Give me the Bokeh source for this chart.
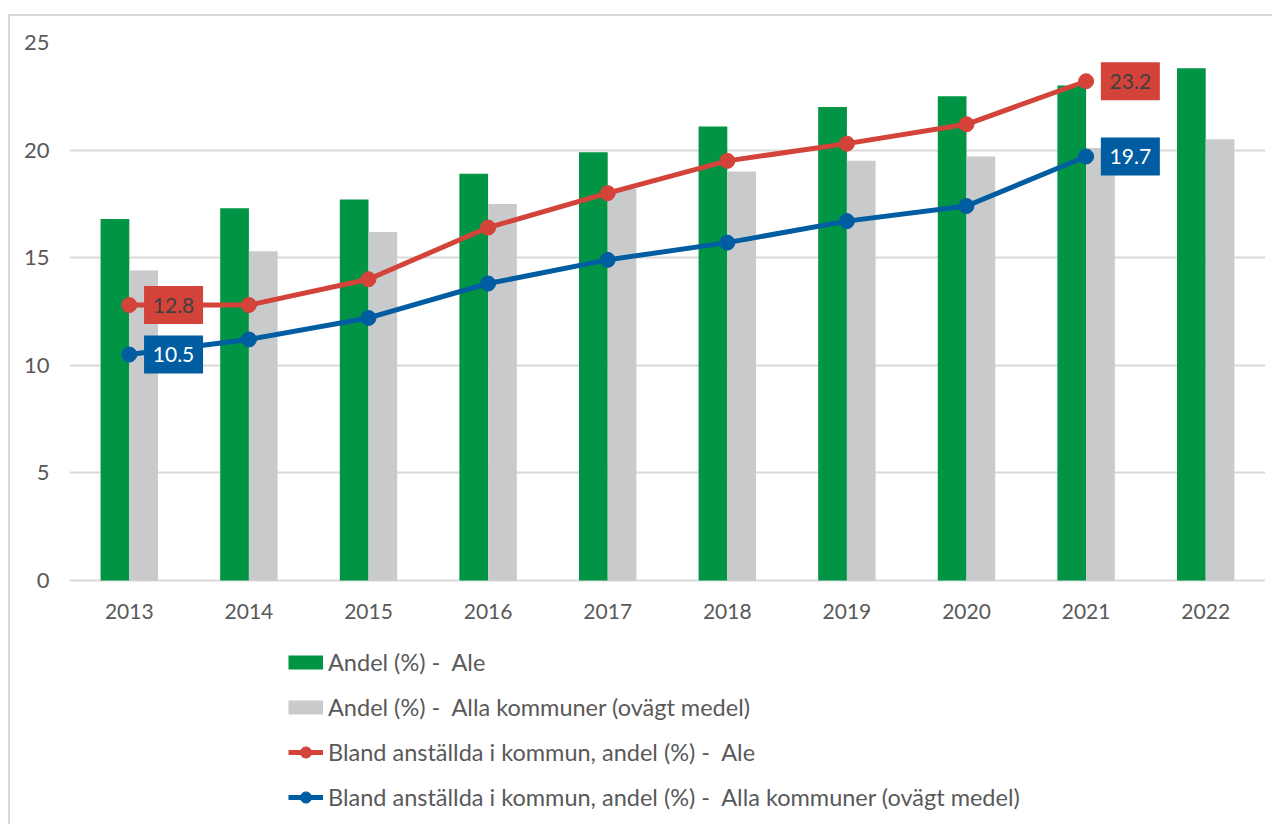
from bokeh.plotting import figure
from bokeh.models import ColumnDataSource, Range1d, FixedTicker, Legend, LegendItem, FactorRange
from bokeh.transform import dodge
from bokeh.core.properties import value
from bokeh.embed import file_html
from bokeh.resources import INLINE

years = ["2013", "2014", "2015", "2016", "2017", "2018", "2019", "2020", "2021", "2022"]
andel_ale = [16.8, 17.3, 17.7, 18.9, 19.9, 21.1, 22.0, 22.5, 23.0, 23.8]
andel_alla = [14.4, 15.3, 16.2, 17.5, 18.2, 19.0, 19.5, 19.7, 20.1, 20.5]
line_years = years[:9]
bland_ale = [12.8, 12.8, 14.0, 16.4, 18.0, 19.5, 20.3, 21.2, 23.2]
bland_alla = [10.5, 11.2, 12.2, 13.8, 14.9, 15.7, 16.7, 17.4, 19.7]
y_ticks = [0, 5, 10, 15, 20, 25]

GREEN = "#009444"
GRAY = "#C9CACC"
RED = "#D3433A"
BLUE = "#005DA2"
TXT = "#595959"
FONT = "Lato"
FS = "21px"

# layout: frame extends below the value axis to host the legend
H = 810
TOP = 26
PX_PER_UNIT = 21.52
frame_h = H - TOP
y_start = 25 - frame_h / PX_PER_UNIT

p = figure(x_range=FactorRange(*years), y_range=Range1d(y_start, 25),
           width=1264, height=H, output_backend="svg", toolbar_location=None,
           min_border_left=59, min_border_right=9, min_border_top=TOP, min_border_bottom=0)
p.margin = (14, 0, 0, 8)
p.styles = {"border-left": "2px solid #D9D9D9", "border-top": "2px solid #D9D9D9"}
p.outline_line_color = None
p.background_fill_color = "white"
p.border_fill_color = "white"

bars = ColumnDataSource(dict(x=years, a=andel_ale, b=andel_alla))
r_green = p.vbar(x=dodge("x", -0.12, range=p.x_range), top="a", width=0.24, source=bars,
                 fill_color=GREEN, line_color=None)
r_gray = p.vbar(x=dodge("x", 0.12, range=p.x_range), top="b", width=0.24, source=bars,
                fill_color=GRAY, line_color=None)

lines = ColumnDataSource(dict(x=line_years, r=bland_ale, b=bland_alla))
r_red_l = p.line(x="x", y="r", source=lines, line_color=RED, line_width=5)
r_red_m = p.scatter(x="x", y="r", source=lines, size=15, fill_color=RED, line_color=RED)
r_blue_l = p.line(x="x", y="b", source=lines, line_color=BLUE, line_width=5)
r_blue_m = p.scatter(x="x", y="b", source=lines, size=15, fill_color=BLUE, line_color=BLUE)

# legend swatches for the bar series (flat 35x14 bands); a NaN point draws nothing on the plot
nan_src = ColumnDataSource(dict(x=[years[0]], y=[float("nan")]))
sw_green = p.line(x="x", y="y", source=nan_src, line_color=GREEN, line_width=14)
sw_gray = p.line(x="x", y="y", source=nan_src, line_color=GRAY, line_width=14)

# data labels on first and last points
def labels(xs, ys, fill, txtcol):
    src = ColumnDataSource(dict(x=xs, y=ys, t=[f"{v:.1f}" for v in ys]))
    p.rect(x=dodge("x", 0.37, range=p.x_range), y="y", width=59, height=38,
           width_units="screen", height_units="screen", source=src,
           fill_color=fill, line_color=None)
    p.text(x=dodge("x", 0.37, range=p.x_range), y="y", text="t", source=src,
           text_align="center", text_baseline="middle", text_color=txtcol,
           text_font=value(FONT), text_font_size=FS)

labels([line_years[0], line_years[-1]], [bland_ale[0], bland_ale[-1]], RED, "#404040")
labels([line_years[0], line_years[-1]], [bland_alla[0], bland_alla[-1]], BLUE, "white")

# category (year) labels under the zero line
cat_src = ColumnDataSource(dict(x=years, y=[0] * len(years), t=years))
p.text(x="x", y="y", text="t", source=cat_src, y_offset=31,
       text_align="center", text_baseline="middle", text_color=TXT,
       text_font=value(FONT), text_font_size=FS)

p.xaxis.visible = False
p.yaxis.ticker = FixedTicker(ticks=y_ticks)
ax = p.yaxis
ax.axis_line_color = None
ax.major_tick_line_color = None
ax.minor_tick_line_color = None
ax.major_tick_out = 0
ax.major_tick_in = 0
ax.major_label_text_font = FONT
ax.major_label_text_font_size = "22px"
ax.major_label_text_color = TXT
ax.major_label_standoff = 20
p.xgrid.grid_line_color = None
p.ygrid.ticker = FixedTicker(ticks=y_ticks)
p.ygrid.grid_line_color = "#D9D9D9"
p.ygrid.grid_line_width = 2
p.x_range.range_padding = 0

legend = Legend(items=[
    LegendItem(label="Andel (%) -  Ale", renderers=[sw_green]),
    LegendItem(label="Andel (%) -  Alla kommuner (ovägt medel)", renderers=[sw_gray]),
    LegendItem(label="Bland anställda i kommun, andel (%) -  Ale", renderers=[r_red_l, r_red_m]),
    LegendItem(label="Bland anställda i kommun, andel (%) -  Alla kommuner (ovägt medel)", renderers=[r_blue_l, r_blue_m]),
], location=(219, 15))
legend.orientation = "vertical"
legend.border_line_color = None
legend.background_fill_alpha = 0
legend.padding = 0
legend.margin = 0
legend.spacing = 17
legend.glyph_width = 35
legend.glyph_height = 28
legend.label_height = 28
legend.label_standoff = 5
legend.label_text_font = FONT
legend.label_text_font_size = "23.5px"
legend.label_text_color = TXT
legend.label_text_baseline = "middle"
p.add_layout(legend, "center")

open("out.html", "w").write(file_html(p, INLINE))
